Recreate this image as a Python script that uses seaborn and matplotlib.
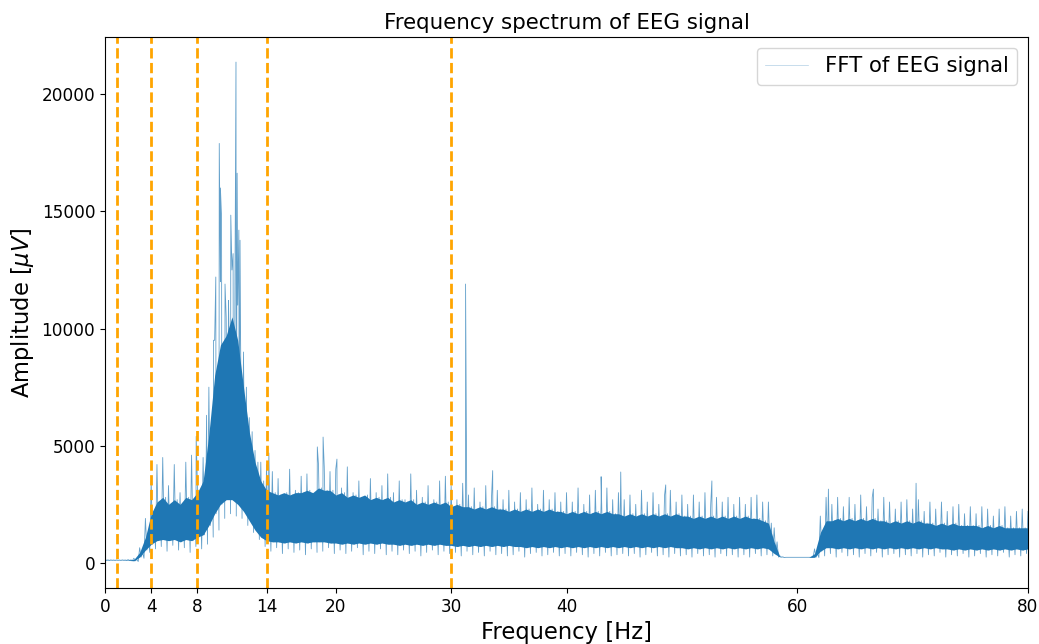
import numpy as np
import pandas as pd
import matplotlib
matplotlib.use("Agg")
import matplotlib.pyplot as plt
import seaborn as sns

# ---------------- data ----------------
# frequency grid (Hz), one bin every 0.5 Hz
freq_hz = np.arange(0, 80.5, 0.5)

# spike tops per bin
peak_uv = [
    140, 130, 130, 130, 140, 200, 650, 1900, 3500, 4200,
    4500, 3300, 4200, 3000, 4300, 4600, 3400, 4500, 7500, 9500,
    12000, 10500, 12500, 11000, 9000, 6200, 4800, 4300, 4200, 3900,
    3600, 2900, 4000, 3100, 3700, 3800, 2900, 4200, 4100, 3900,
    4000, 3200, 4100, 3000, 3500, 2800, 3600, 3000, 3300, 3800,
    3000, 3500, 2700, 3800, 3100, 2800, 3300, 2700, 3500, 3700,
    3300, 2700, 3400, 2900, 3200, 2600, 3300, 2800, 3100, 2700,
    3100, 2600, 3000, 2700, 3200, 2500, 3100, 2700, 3000, 2600,
    3000, 2600, 3200, 2500, 2900, 3100, 2600, 3200, 2700, 3000,
    2700, 2900, 2500, 3100, 2600, 3000, 2500, 2900, 3100, 2600,
    2900, 2500, 2900, 2600, 3000, 2500, 2800, 2600, 2800, 2500,
    2800, 2500, 2800, 2900, 2600, 2600, 1500, 300, 240, 240,
    240, 240, 240, 600, 2000, 2800, 2500, 2800, 2400, 2800,
    2500, 2900, 2400, 2800, 2300, 2800, 2600, 2300, 2600, 2700,
    2300, 2700, 2200, 2600, 2300, 2600, 2200, 2400, 2500, 2100,
    2400, 2100, 2400, 2300, 2000, 2300, 2400, 2000, 2200, 2300,
    2200,
]

# lows per bin
trough_uv = [
    110, 110, 110, 110, 100, 60, 200, 450, 600, 700,
    500, 750, 550, 650, 450, 700, 600, 800, 1100, 1400,
    1900, 2100, 2000, 1900, 1600, 1300, 1000, 700, 500, 650,
    400, 600, 450, 550, 350, 600, 450, 500, 650, 400,
    550, 400, 500, 650, 350, 500, 400, 600, 350, 500,
    350, 550, 400, 500, 300, 450, 550, 350, 500, 400,
    450, 300, 500, 350, 450, 300, 500, 350, 400, 300,
    350, 500, 250, 400, 450, 300, 350, 450, 300, 400,
    300, 450, 350, 250, 400, 300, 450, 300, 350, 400,
    300, 400, 250, 350, 450, 300, 350, 250, 400, 300,
    350, 250, 400, 300, 350, 250, 400, 300, 350, 250,
    350, 250, 400, 300, 350, 300, 250, 230, 240, 240,
    240, 240, 240, 230, 300, 400, 250, 450, 300, 350,
    250, 400, 300, 450, 250, 350, 400, 250, 350, 300,
    400, 250, 350, 300, 450, 250, 350, 300, 400, 250,
    300, 400, 250, 350, 300, 450, 250, 350, 300, 400,
    300,
]

# top and bottom of the dense part of the band
core_hi_uv = [
    130, 125, 125, 125, 130, 150, 450, 1100, 2100, 2600,
    2800, 2500, 2700, 2500, 2800, 2700, 3000, 3500, 5500, 8000,
    9300, 9700, 10500, 9500, 7500, 5600, 4300, 3500, 3100, 3000,
    2900, 3000, 2900, 3000, 3000, 3100, 3000, 3200, 3100, 3100,
    2900, 3000, 2800, 2900, 2800, 2900, 2700, 2800, 2700, 2800,
    2600, 2700, 2600, 2700, 2500, 2600, 2500, 2600, 2500, 2600,
    2400, 2500, 2400, 2400, 2300, 2400, 2300, 2400, 2300, 2300,
    2200, 2300, 2200, 2300, 2200, 2300, 2200, 2300, 2200, 2200,
    2100, 2200, 2100, 2200, 2100, 2200, 2100, 2200, 2100, 2100,
    2000, 2100, 2000, 2100, 2000, 2100, 2000, 2100, 2000, 2100,
    2000, 2000, 1900, 2000, 1900, 2000, 1900, 2000, 1900, 2000,
    1900, 2000, 1900, 1900, 1800, 1700, 900, 260, 240, 240,
    240, 240, 240, 400, 1300, 1800, 1800, 1900, 1800, 1900,
    1800, 1900, 1800, 1900, 1800, 1800, 1700, 1800, 1700, 1800,
    1700, 1800, 1700, 1700, 1600, 1700, 1600, 1700, 1600, 1600,
    1600, 1600, 1500, 1600, 1500, 1600, 1500, 1500, 1500, 1500,
    1500,
]

core_lo_uv = [
    115, 115, 115, 115, 110, 90, 250, 550, 800, 950,
    1000, 950, 1000, 900, 1000, 950, 1100, 1200, 1600, 2100,
    2500, 2700, 2700, 2500, 2200, 1800, 1400, 1100, 950, 900,
    900, 850, 900, 850, 900, 850, 900, 900, 900, 850,
    850, 800, 850, 800, 850, 800, 850, 800, 850, 800,
    800, 750, 800, 750, 800, 750, 800, 750, 800, 750,
    750, 700, 750, 700, 750, 700, 750, 700, 750, 700,
    750, 700, 700, 650, 700, 650, 700, 650, 700, 650,
    700, 650, 700, 650, 700, 650, 700, 650, 700, 650,
    700, 650, 700, 650, 700, 650, 700, 650, 700, 650,
    650, 600, 650, 600, 650, 600, 650, 600, 650, 600,
    650, 600, 650, 600, 650, 600, 400, 250, 240, 240,
    240, 240, 240, 240, 500, 650, 650, 600, 650, 600,
    650, 600, 650, 600, 650, 600, 650, 600, 650, 600,
    650, 600, 650, 600, 650, 600, 600, 550, 600, 550,
    600, 550, 600, 550, 600, 550, 600, 550, 600, 550,
    600,
]

# isolated tall spikes
spike_freq_hz = [7.9, 8.8, 9.4, 9.6, 9.9, 10.0, 10.1, 10.4, 10.7, 10.9, 11.1,
                 11.35, 11.45, 11.6, 11.7, 12.0, 12.5, 14.2, 18.4, 18.9, 20.1,
                 31.25, 33.6, 43.0, 44.7, 48.6, 52.6, 62.7, 66.6, 70.3]
spike_amp_uv = [5400, 6300, 9500, 12200, 17900, 16000, 14750, 11900, 11200,
                14840, 13200, 21370, 16630, 14200, 13770, 9000, 6200, 4690,
                4950, 5370, 4430, 11900, 3940, 3680, 3880, 3330, 3500, 3150,
                3150, 3400]

band_freqs_hz = [1, 4, 8, 14, 30]
x_ticks = [0, 4, 8, 14, 20, 30, 40, 60, 80]

# ---------------- build the trace ----------------
step = 0.5
xs, ys = [], []
for f, p, cl, ch, t in zip(freq_hz, peak_uv, core_lo_uv, core_hi_uv, trough_uv):
    xs += [f, f + step * 0.25, f + step * 0.5, f + step * 0.75]
    ys += [p, cl, ch, t]
xs += list(spike_freq_hz)
ys += list(spike_amp_uv)
trace = pd.DataFrame({"freq": xs, "amp": ys}).sort_values("freq", kind="mergesort")
trace = trace[trace["freq"] <= 80]

# ---------------- plot ----------------
fig = plt.figure(figsize=(10.39, 6.44), dpi=100)
ax = fig.add_axes([0.1011, 0.087, 0.8883, 0.8555])

ax.fill_between(freq_hz, core_lo_uv, core_hi_uv, color="#1f77b4",
                alpha=1.0, linewidth=0)
sns.lineplot(data=trace, x="freq", y="amp", ax=ax, estimator=None,
             errorbar=None, sort=False, color="#1f77b4", linewidth=0.6,
             alpha=0.7, label="FFT of EEG signal")

for bf in band_freqs_hz:
    ax.axvline(bf, color="orange", linestyle="--", linewidth=2)

ax.set_xlim(0, 80)
ax.set_ylim(-1068, 22440)
ax.set_xticks(x_ticks)
ax.set_yticks([0, 5000, 10000, 15000, 20000])
ax.tick_params(labelsize=12.2)
ax.set_title("Frequency spectrum of EEG signal", fontsize=15.4)
ax.set_xlabel("Frequency [Hz]", fontsize=16.3)
ax.set_ylabel(r"Amplitude [$\mu V$]", fontsize=16.3)
leg = ax.legend(loc="upper right", fontsize=15.3)
for h in leg.get_lines():
    h.set_alpha(0.35)
    h.set_linewidth(0.5)

fig.savefig("out.png", dpi=100)
